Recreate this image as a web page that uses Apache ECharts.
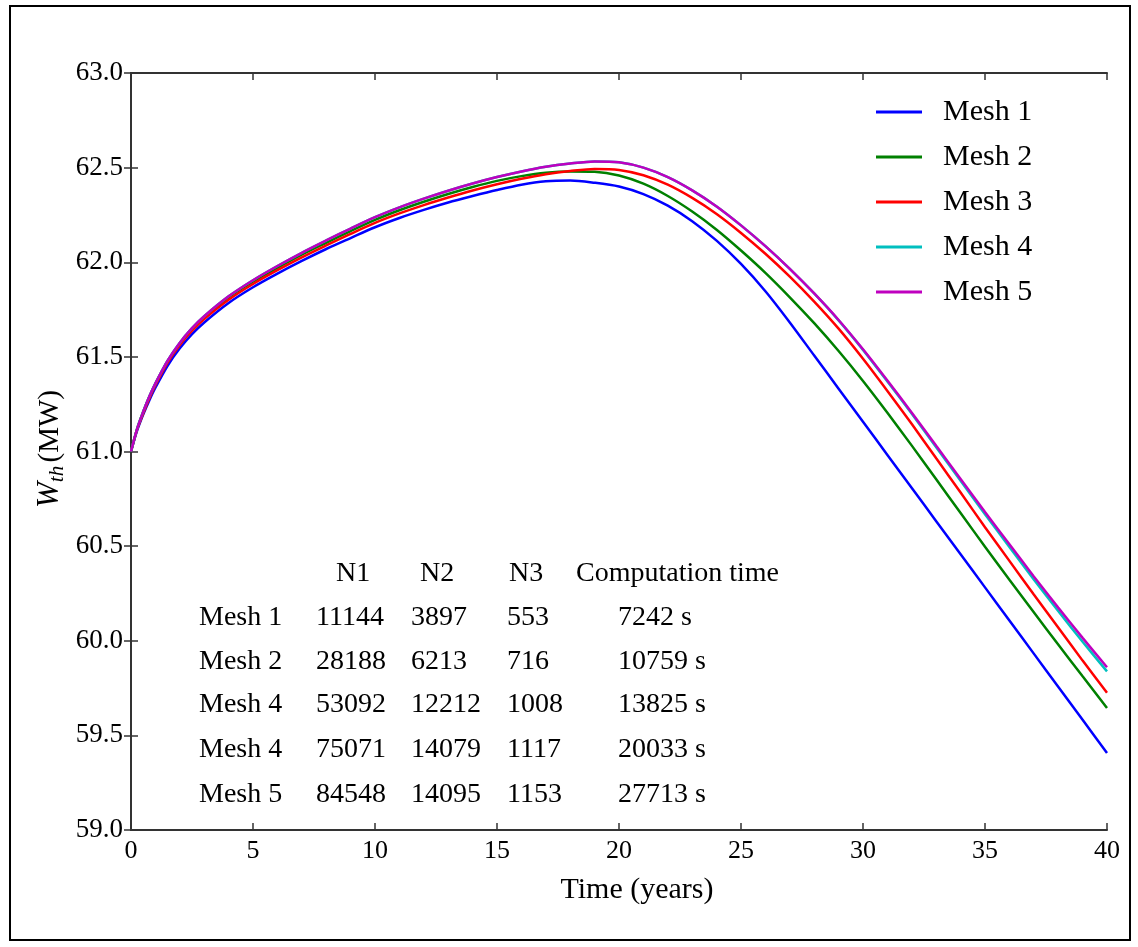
<!DOCTYPE html>
<html>
<head>
<meta charset="utf-8">
<script src="https://cdn.jsdelivr.net/npm/echarts@6/dist/echarts.min.js"></script>
<style>
html,body{margin:0;padding:0;background:#fff;}
#chart{width:1138px;height:947px;}
</style>
</head>
<body>
<div id="chart"></div>
<script>
// ---------- data ----------
const years = [0,0.25,0.5,0.75,1,1.5,2,2.5,3,4,5,6,7,8,9,10,11,12,13,14,15,16,17,18,19,20,21,22,23,24,25,26,27,28,29,30,31,32,33,34,35,36,37,38,39,40];

const mesh1 = [61.00,61.11,61.195,61.27,61.337,61.453,61.545,61.62,61.682,61.785,61.868,61.94,62.007,62.07,62.128,62.185,62.234,62.277,62.316,62.35,62.382,62.41,62.428,62.432,62.42,62.40,62.36,62.299,62.217,62.114,61.991,61.847,61.682,61.507,61.332,61.157,60.982,60.807,60.632,60.457,60.282,60.107,59.932,59.757,59.582,59.407];
const mesh2 = [61.00,61.12,61.21,61.289,61.358,61.477,61.571,61.647,61.71,61.814,61.897,61.97,62.04,62.103,62.165,62.224,62.275,62.32,62.361,62.398,62.43,62.455,62.473,62.48,62.478,62.458,62.415,62.35,62.268,62.172,62.062,61.944,61.815,61.678,61.531,61.373,61.205,61.031,60.853,60.675,60.497,60.322,60.15,59.98,59.812,59.645];
const mesh3 = [61.00,61.115,61.20,61.28,61.35,61.47,61.563,61.638,61.70,61.802,61.885,61.958,62.026,62.089,62.15,62.208,62.258,62.302,62.342,62.379,62.412,62.441,62.465,62.482,62.493,62.488,62.46,62.41,62.34,62.255,62.155,62.045,61.924,61.792,61.649,61.49,61.32,61.145,60.964,60.783,60.60,60.422,60.244,60.07,59.895,59.725];
const mesh4 = [61.00,61.12,61.21,61.29,61.36,61.48,61.575,61.652,61.715,61.82,61.905,61.98,62.05,62.115,62.178,62.238,62.29,62.336,62.378,62.416,62.45,62.48,62.505,62.522,62.533,62.528,62.50,62.45,62.38,62.295,62.195,62.085,61.965,61.835,61.693,61.537,61.37,61.199,61.022,60.845,60.668,60.496,60.324,60.157,59.995,59.838];
const mesh5 = [61.00,61.12,61.21,61.29,61.36,61.48,61.575,61.652,61.715,61.82,61.905,61.98,62.05,62.115,62.178,62.238,62.29,62.336,62.378,62.416,62.45,62.48,62.505,62.522,62.533,62.528,62.50,62.45,62.38,62.295,62.195,62.085,61.965,61.835,61.695,61.54,61.375,61.205,61.03,60.855,60.68,60.51,60.34,60.175,60.015,59.86];

const seriesNames = ['Mesh 1','Mesh 2','Mesh 3','Mesh 4','Mesh 5'];
const seriesValues = [mesh1, mesh2, mesh3, mesh4, mesh5];
const seriesColors = ['#0000ff','#008000','#ff0000','#00bfbf','#bf00bf'];

const xTicks = [0,5,10,15,20,25,30,35,40];
const yTickLabels = ['59.0','59.5','60.0','60.5','61.0','61.5','62.0','62.5','63.0'];

const tableHeader = ['N1','N2','N3','Computation time'];
const tableMesh = ['Mesh 1','Mesh 2','Mesh 4','Mesh 4','Mesh 5'];
const tableN1 = ['11144','28188','53092','75071','84548'];
const tableN2 = ['3897','6213','12212','14079','14095'];
const tableN3 = ['553','716','1008','1117','1153'];
const tableTime = ['7242 s','10759 s','13825 s','20033 s','27713 s'];

// ---------- layout ----------
const FONT = '"Liberation Serif", "Times New Roman", serif';
const headerX = [336, 420, 509, 576];
const headerY = 574;
const colX = [199, 316, 411, 507, 618];
const rowY = [618, 662, 705, 750, 795];

const chart = echarts.init(document.getElementById('chart'));

const series = seriesNames.map((n, i) => ({
  name: n,
  type: 'line',
  data: years.map((x, k) => [x, seriesValues[i][k]]),
  showSymbol: false,
  smooth: 0.3,
  lineStyle: { color: seriesColors[i], width: 2.5 },
  itemStyle: { color: seriesColors[i] },
  xAxisIndex: 0, yAxisIndex: 0,
  animation: false,
  z: 2 + i
}));

const graphics = [];
graphics.push({
  type: 'rect', shape: { x: 10, y: 6, width: 1120, height: 934 },
  style: { fill: 'none', stroke: '#000', lineWidth: 2 }, silent: true
});
graphics.push({
  type: 'text', x: 637, y: 890,
  style: { text: 'Time (years)', font: '30px ' + FONT, fill: '#000', align: 'center', verticalAlign: 'middle' }
});
graphics.push({
  type: 'text', x: 50, y: 449, rotation: Math.PI / 2,
  style: {
    text: '{w|W}{s|th} {n|(MW)}',
    align: 'center', verticalAlign: 'middle',
    rich: {
      w: { fontFamily: FONT, fontStyle: 'italic', fontSize: 31, lineHeight: 36, verticalAlign: 'middle', fill: '#000' },
      s: { fontFamily: FONT, fontStyle: 'italic', fontSize: 21, lineHeight: 22, verticalAlign: 'bottom', fill: '#000' },
      n: { fontFamily: FONT, fontSize: 29, lineHeight: 36, verticalAlign: 'middle', fill: '#000' }
    }
  }
});
tableHeader.forEach((t, j) => {
  graphics.push({ type: 'text', x: headerX[j], y: headerY,
    style: { text: t, font: '28px ' + FONT, fill: '#000', align: 'left', verticalAlign: 'middle' } });
});
const cols = [tableMesh, tableN1, tableN2, tableN3, tableTime];
cols.forEach((col, j) => {
  col.forEach((t, r) => {
    graphics.push({ type: 'text', x: colX[j], y: rowY[r],
      style: { text: t, font: '28px ' + FONT, fill: '#000', align: 'left', verticalAlign: 'middle' } });
  });
});

const axisLineStyle = { color: '#333', width: 2 };
const tickStyle = { show: true, inside: true, length: 7, lineStyle: { color: '#333', width: 1.5 } };

const option = {
  animation: false,
  backgroundColor: '#fff',
  grid: { left: 131, right: 31, top: 73, bottom: 117, containLabel: false },
  legend: {
    data: seriesNames,
    orient: 'vertical',
    left: 871, top: 92,
    itemWidth: 46, itemHeight: 3, itemGap: 15,
    icon: 'rect',
    textStyle: { fontFamily: FONT, fontSize: 30, color: '#000', lineHeight: 30, padding: [0, 0, 0, 16] }
  },
  xAxis: [{
    type: 'value', min: 0, max: 40, interval: 5, position: 'bottom',
    axisLine: { show: true, lineStyle: axisLineStyle },
    axisTick: tickStyle,
    axisLabel: { show: true, fontFamily: FONT, fontSize: 26, color: '#000', margin: 8,
      formatter: v => xTicks.indexOf(v) >= 0 ? String(v) : '' },
    splitLine: { show: false }
  }, {
    type: 'value', min: 0, max: 40, interval: 5, position: 'top',
    axisLine: { show: true, lineStyle: axisLineStyle },
    axisTick: tickStyle, axisLabel: { show: false }, splitLine: { show: false }
  }],
  yAxis: [{
    type: 'value', min: 59, max: 63, interval: 0.5, position: 'left',
    axisLine: { show: true, lineStyle: axisLineStyle },
    axisTick: tickStyle,
    axisLabel: { show: true, fontFamily: FONT, fontSize: 27, color: '#000', margin: 8,
      formatter: v => yTickLabels[Math.round((v - 59) / 0.5)] },
    splitLine: { show: false }
  }, {
    type: 'value', min: 59, max: 63, interval: 0.5, position: 'right',
    axisLine: { show: true, lineStyle: axisLineStyle },
    axisTick: tickStyle, axisLabel: { show: false }, splitLine: { show: false }
  }],
  series: series,
  graphic: graphics
};
chart.setOption(option);
</script>
</body>
</html>
